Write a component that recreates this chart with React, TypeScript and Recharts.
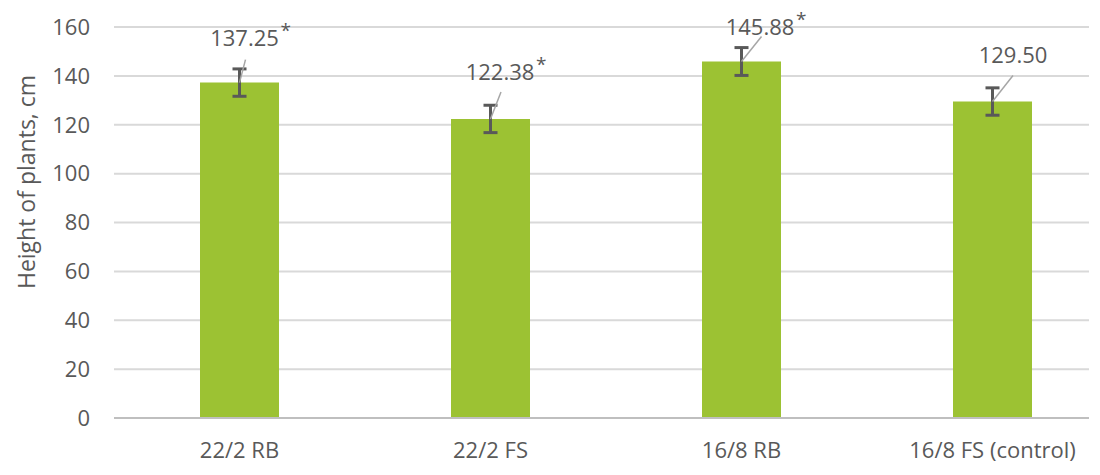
import React from 'react';
import { BarChart, Bar, XAxis, YAxis, CartesianGrid, ErrorBar, LabelList } from 'recharts';

// treatments along the x axis
const categories = ['22/2 RB', '22/2 FS', '16/8 RB', '16/8 FS (control)'];
// mean plant height, cm
const heights = [137.25, 122.38, 145.88, 129.5];
// error bar half-length, cm
const errors = [5.6, 5.6, 5.7, 5.6];
// significant difference vs control
const significant = [true, true, true, false];
const yTicks = [0, 20, 40, 60, 80, 100, 120, 140, 160];

// where each data label sits, relative to the top centre of its bar (label centre and leader end)
const labelOffsets = [
  { lx: 5, ly: -45, ex: 6, ey: -23 },
  { lx: 9.5, ly: -47, ex: 10.5, ey: -27 },
  { lx: 18.5, ly: -35, ex: 20, ey: -25 },
  { lx: 20.5, ly: -47, ex: 20.5, ey: -26 },
];

const data = categories.map((name, i) => ({
  name,
  height: heights[i],
  err: errors[i],
  sig: significant[i],
}));

const TEXT = '#595959';
const FONT = '"Open Sans", "DejaVu Sans", sans-serif';

const ValueLabel = (props: any) => {
  const { x, y, width, value, index } = props;
  const off = labelOffsets[index];
  const cx = x + width / 2;
  const lx = cx + off.lx;
  const ly = y + off.ly;
  return (
    <g>
      <line x1={cx} y1={y} x2={cx + off.ex} y2={y + off.ey} stroke="#A6A6A6" strokeWidth={1.5} />
      <text x={lx} y={ly + 8} textAnchor="middle" fill={TEXT} fontSize={22} fontFamily={FONT}>
        {Number(value).toFixed(2)}
      </text>
      {significant[index] && (
        <text x={lx + 36} y={ly - 1} textAnchor="start" fill={TEXT} fontSize={19} fontFamily={FONT}>
          *
        </text>
      )}
    </g>
  );
};

export default function App() {
  return (
    <div style={{ position: 'absolute', left: 0, top: 0, width: 1100, height: 475, background: '#fff' }}>
      <BarChart
        width={1100}
        height={475}
        data={data}
        margin={{ top: 27, right: 11, bottom: 0, left: 0 }}
      >
        <CartesianGrid vertical={false} stroke="#D9D9D9" strokeWidth={2} />
        <XAxis
          dataKey="name"
          height={57}
          padding={{ left: 0, right: -29 }}
          stroke="#BFBFBF"
          strokeWidth={2}
          tickLine={false}
          tickSize={6}
          tickMargin={18}
          tick={{ fill: TEXT, fontSize: 22, fontFamily: FONT }}
        />
        <YAxis
          width={114}
          domain={[0, 160]}
          ticks={yTicks}
          axisLine={false}
          tickLine={false}
          tickSize={6}
          tickMargin={18}
          tick={{ fill: TEXT, fontSize: 22, fontFamily: FONT }}
          label={() => (
            <text
              x={35}
              y={182}
              transform="rotate(-90, 35, 182)"
              textAnchor="middle"
              fill={TEXT}
              fontSize={23}
              fontFamily={FONT}
            >
              Height of plants, cm
            </text>
          )}
        />
        <Bar dataKey="height" fill="#9CC233" barSize={79} isAnimationActive={false}>
          <ErrorBar dataKey="err" width={7} stroke="#595959" strokeWidth={3} />
          <LabelList dataKey="height" content={ValueLabel} />
        </Bar>
      </BarChart>
    </div>
  );
}
